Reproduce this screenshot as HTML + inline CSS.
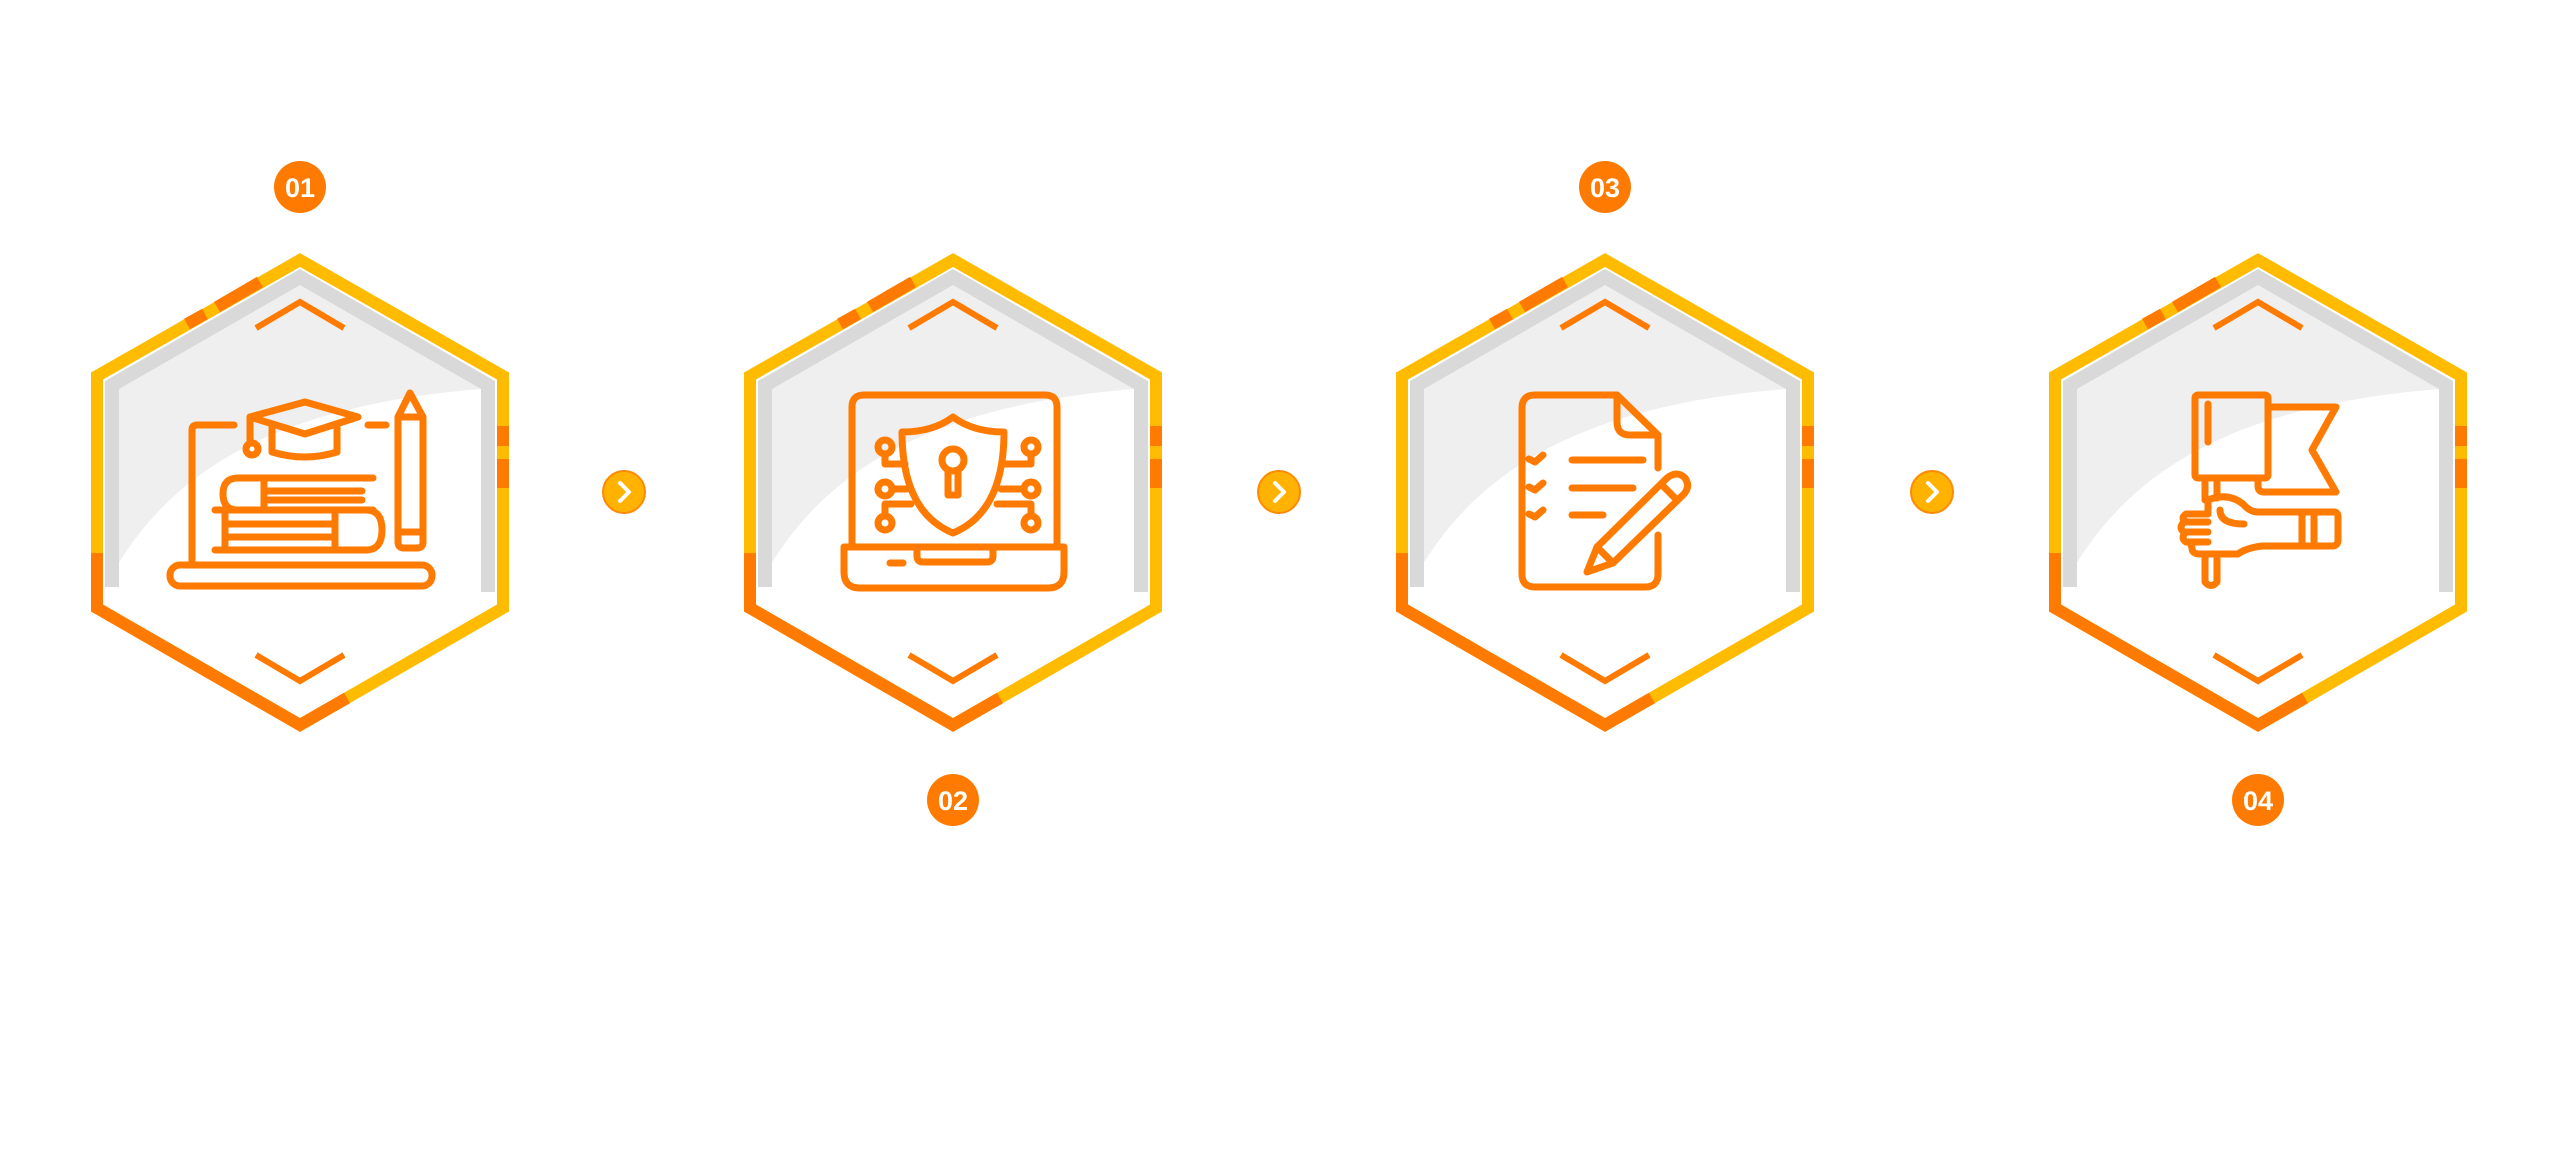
<!DOCTYPE html>
<html><head><meta charset="utf-8"><style>
html,body{margin:0;padding:0;background:#fff;}
svg{display:block;}
text{font-family:"Liberation Sans",sans-serif;font-weight:bold;}
</style></head><body>
<svg width="2560" height="1149" viewBox="0 0 2560 1149" xmlns="http://www.w3.org/2000/svg">
<defs>
<clipPath id="hexclip"><polygon points="0,-223 195,-111 195,112 0,224 -195,112 -195,-111"/></clipPath>
<g id="hex">
  <polygon points="0,-239 209,-119 209,120 0,240 -209,120 -209,-119" fill="#fff"/>
  <polygon points="0,-223 195,-111 195,112 0,224 -195,112 -195,-111" fill="#d9d9d9"/>
  <polygon points="0,-207 181,-103 181,104 0,208 -181,104 -181,-103" fill="#efefef"/>
  <path d="M-195,95 C-140,-10 -40,-88 195,-104 L195,240 L-195,240 Z" fill="#fff" clip-path="url(#hexclip)"/>
  <rect x="-195" y="-105" width="14" height="200" fill="#d9d9d9"/>
  <rect x="181" y="-105" width="14" height="205" fill="#d9d9d9"/>
  <polygon points="0,-232 203,-116 203,116 0,233 -203,116 -203,-116" fill="none" stroke="#FFBB00" stroke-width="12" stroke-linejoin="miter"/>
  <g fill="none" stroke="#FF7A00" stroke-width="12" stroke-linejoin="miter">
    <path d="M-113,-168 L-95,-178 M-83,-185 L-40,-210"/>
    <path d="M-203,61 L-203,116 L0,233 L47,206"/>
    <path d="M203,-66 L203,-46 M203,-33 L203,-4"/>
  </g>
  <g fill="none" stroke="#FF7A00" stroke-width="6">
    <path d="M-44,-164 L0,-190 L44,-164"/>
    <path d="M-44,163 L0,189 L44,163"/>
  </g>
</g>
</defs>

<g transform="translate(300,492)">
  <use href="#hex"/>
  <g fill="none" stroke="#FF7A00" stroke-width="7" stroke-linecap="round" stroke-linejoin="round">
    <rect x="-130" y="73" width="262" height="21" rx="10"/>
    <path d="M-108,70 L-108,-62 Q-108,-67 -103,-67 L-66,-67"/>
    <path d="M68,-67 L86,-67"/>
    <path d="M5,-90 L58,-75 L5,-58 L-50,-75 Z"/>
    <path d="M-28,-68 L-28,-40 Q5,-30 37,-40 L37,-68"/>
    <path d="M-50,-75 L-50,-52"/>
    <circle cx="-48" cy="-43" r="6"/>
    <path d="M73,-14 L-62,-14 Q-77,-14 -77,2 Q-77,18 -62,18 L73,18"/>
    <path d="M-36,-14 L-36,18 M-36,-1 L62,-1 M-36,8 L62,8"/>
    <path d="M-85,18 L66,18 Q82,18 82,38 Q82,58 66,58 L-85,58"/>
    <path d="M-75,18 L-75,58 M-75,32 L35,32 M-75,45 L35,45 M35,18 L35,58"/>
    <path d="M98,-75 L110,-99 L123,-75 L123,50 Q123,56 117,56 L104,56 Q98,56 98,50 Z"/>
    <path d="M98,-75 L123,-75 M98,40 L123,40"/>
  </g>
  <circle cx="0" cy="-305" r="26" fill="#FF7A00"/>
  <text x="0" y="-295" text-anchor="middle" font-size="27" fill="#fff">01</text>
</g>

<g transform="translate(953,492)">
  <use href="#hex"/>
  <g fill="none" stroke="#FF7A00" stroke-width="7" stroke-linecap="round" stroke-linejoin="round">
    <path d="M-101,55 L-101,-85 Q-101,-97 -89,-97 L92,-97 Q104,-97 104,-85 L104,55"/>
    <path d="M-109,55 L111,55 L111,80 Q111,96 95,96 L-93,96 Q-109,96 -109,80 Z"/>
    <path d="M-36,55 L-36,64 Q-36,70 -30,70 L34,70 Q40,70 40,64 L40,55"/>
    <path d="M-63,71 L-50,71"/>
    <path d="M0,-75 Q-20,-60 -51,-60 Q-51,20 0,41 Q51,20 51,-60 Q20,-60 0,-75 Z"/>
    <circle cx="0" cy="-32" r="11"/>
    <path d="M-5,-22 L-5,3 L5,3 L5,-22"/>
    <circle cx="-68" cy="-45" r="7"/><circle cx="-68" cy="-3" r="7"/><circle cx="-68" cy="31" r="7"/>
    <circle cx="78" cy="-45" r="7"/><circle cx="78" cy="-3" r="7"/><circle cx="78" cy="31" r="7"/>
    <path d="M-68,-38 L-68,-28 L-48,-28 M-61,-3 L-46,-3 M-68,24 L-68,12 L-42,12"/>
    <path d="M78,-38 L78,-28 L50,-28 M71,-3 L48,-3 M78,24 L78,12 L44,12"/>
  </g>
  <circle cx="0" cy="308" r="26" fill="#FF7A00"/>
  <text x="0" y="318" text-anchor="middle" font-size="27" fill="#fff">02</text>
</g>

<g transform="translate(1605,492)">
  <use href="#hex"/>
  <g fill="none" stroke="#FF7A00" stroke-width="7" stroke-linecap="round" stroke-linejoin="round">
    <path d="M53,-24 L53,-57 L12,-97 L-70,-97 Q-83,-97 -83,-84 L-83,82 Q-83,95 -70,95 L40,95 Q53,95 53,82 L53,43"/>
    <path d="M12,-97 L12,-70 Q12,-57 25,-57 L53,-57"/>
    <path d="M-76,-33 L-70,-30 L-62,-37 M-76,-5 L-70,-2 L-62,-9 M-76,22 L-70,25 L-62,18"/>
    <path d="M-33,-32 L38,-32 M-33,-4 L28,-4 M-33,23 L-2,23"/>
    <path d="M-18,80 L-8,55 L62,-14 Q72,-22 80,-14 Q86,-5 78,3 L8,71 Z"/>
    <path d="M-8,55 L8,71 M56,-8 L72,8"/>
  </g>
  <circle cx="0" cy="-305" r="26" fill="#FF7A00"/>
  <text x="0" y="-295" text-anchor="middle" font-size="27" fill="#fff">03</text>
</g>

<g transform="translate(2258,492)">
  <use href="#hex"/>
  <g fill="none" stroke="#FF7A00" stroke-width="7" stroke-linecap="round" stroke-linejoin="round">
    <rect x="-63" y="-97" width="73" height="83" rx="3"/>
    <path d="M-50,-88 L-50,-50"/>
    <path d="M10,-85 L78,-85 L54,-42 L78,0 L6,0 Q0,0 0,-6 L0,-14"/>
    <path d="M-53,-14 L-53,8 M-41,-14 L-41,6"/>
    <path d="M-53,62 L-53,90 Q-47,97 -41,90 L-41,62"/>
    <path d="M-50,8 Q-30,0 -15,12 Q-8,20 0,20 L76,20 Q80,20 80,25 L80,48 Q80,54 74,54 L4,54 Q-12,56 -20,62 L-58,62 Q-66,62 -66,56 L-68,50"/>
    <path d="M44,20 L44,54 M56,20 L56,54"/>
    <path d="M-50,8 L-50,22 M-38,18 Q-38,32 -14,32"/>
    <path d="M-50,22 L-72,22 Q-78,26 -72,30 L-50,30 M-74,30 Q-80,36 -74,40 L-50,40 M-72,40 Q-78,46 -72,50 L-50,50"/>
  </g>
  <circle cx="0" cy="308" r="26" fill="#FF7A00"/>
  <text x="0" y="318" text-anchor="middle" font-size="27" fill="#fff">04</text>
</g>

<g>
  <g transform="translate(624,492)">
    <circle r="21" fill="#FFB300" stroke="#FF8A00" stroke-width="2"/>
    <path d="M-4,-9 L5,0 L-4,9" fill="none" stroke="#fff" stroke-width="4" stroke-linecap="round" stroke-linejoin="round"/>
  </g>
  <g transform="translate(1279,492)">
    <circle r="21" fill="#FFB300" stroke="#FF8A00" stroke-width="2"/>
    <path d="M-4,-9 L5,0 L-4,9" fill="none" stroke="#fff" stroke-width="4" stroke-linecap="round" stroke-linejoin="round"/>
  </g>
  <g transform="translate(1932,492)">
    <circle r="21" fill="#FFB300" stroke="#FF8A00" stroke-width="2"/>
    <path d="M-4,-9 L5,0 L-4,9" fill="none" stroke="#fff" stroke-width="4" stroke-linecap="round" stroke-linejoin="round"/>
  </g>
</g>
</svg>
</body></html>
